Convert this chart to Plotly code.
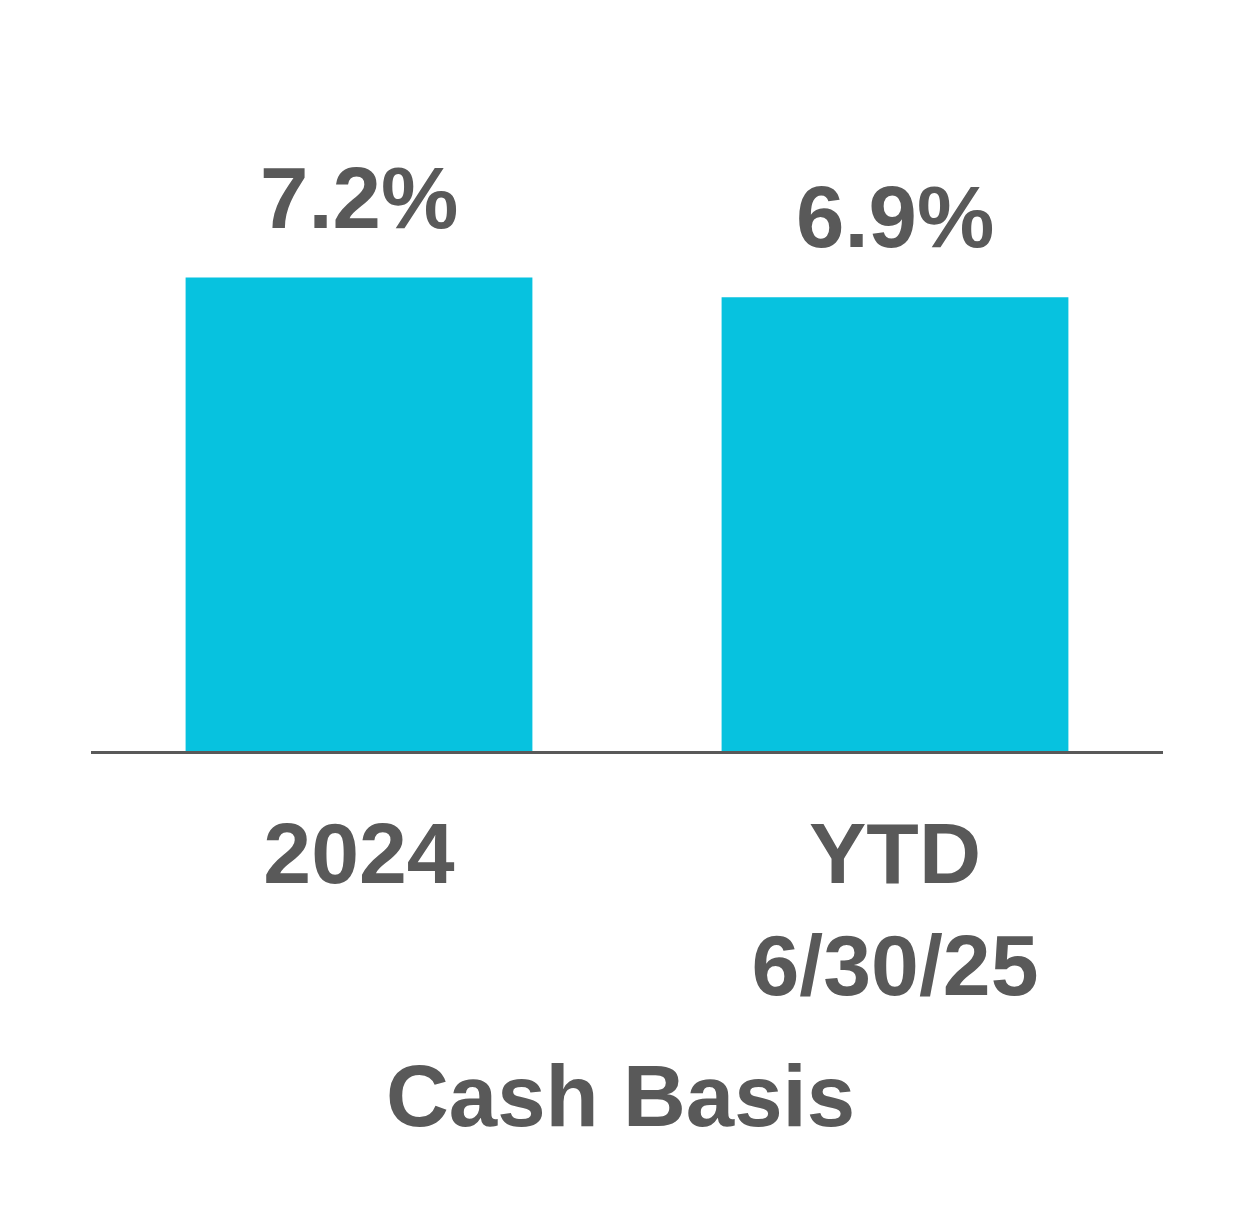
import plotly.graph_objects as go

categories = ["2024", "YTD<br>6/30/25"]
values = [7.2, 6.9]
value_labels = ["7.2%", "6.9%"]
axis_title = "Cash Basis"

GREY = "#595959"
BAR = "#07C2DF"
FONT = "Liberation Sans, Arial, sans-serif"

fig = go.Figure(go.Bar(x=categories, y=values, marker_color=BAR, marker_line_width=0,
                       width=0.647))

for i, (v, t) in enumerate(zip(values, value_labels)):
    fig.add_annotation(x=i, y=v, text=f"<b>{t}</b>", showarrow=False,
                       yanchor="bottom", yshift=30,
                       font=dict(family=FONT, size=87, color=GREY))

fig.add_annotation(x=0.4935, xref="paper", y=-0.654, yref="paper", text=f"<b>{axis_title}</b>",
                   showarrow=False, yanchor="middle",
                   font=dict(family=FONT, size=87, color=GREY))

fig.update_layout(
    width=1254, height=1230,
    margin=dict(l=83, r=99, t=217, b=487, autoexpand=False),
    paper_bgcolor="white", plot_bgcolor="white",
    showlegend=False,
    xaxis=dict(type="category", showline=True, linecolor=GREY, linewidth=3, ticks="",
               tickfont=dict(family=FONT, size=86, color=GREY, weight="bold"),
               ticklabelstandoff=26, automargin=False),
    yaxis=dict(range=[0, 8], visible=False, showgrid=False, zeroline=False,
               automargin=False),
)

fig.write_html("out.html")
